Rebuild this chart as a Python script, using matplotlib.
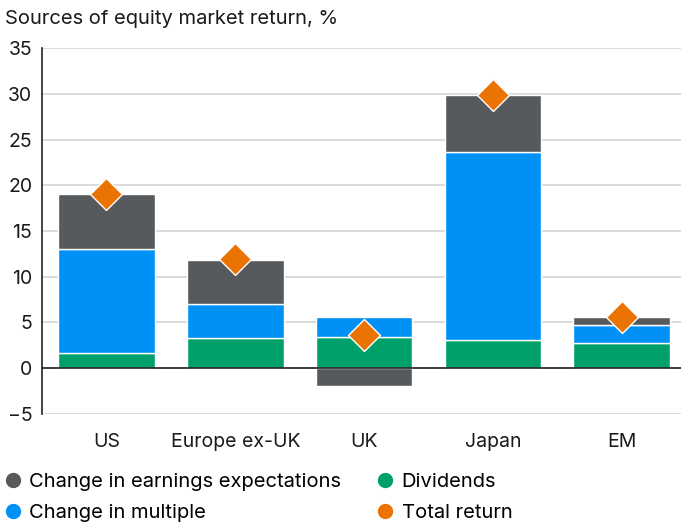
import numpy as np
import matplotlib.pyplot as plt
from matplotlib.lines import Line2D

plt.rcParams['font.family'] = ['Inter', 'DejaVu Sans']

# Data, % contribution
regions = ['US', 'Europe ex-UK', 'UK', 'Japan', 'EM']
dividends = [1.65, 3.3, 3.35, 3.05, 2.75]
multiple = [11.35, 3.75, 2.2, 20.55, 2.0]
earnings = [6.0, 4.8, -1.95, 6.3, 0.8]
total_return = [19.0, 11.9, 3.65, 29.9, 5.6]

c_earn = '#575a5d'
c_div = '#00a06b'
c_mult = '#0091f7'
c_total = '#ea7303'

fig = plt.figure(figsize=(6.81, 5.24), dpi=100)
ax = fig.add_axes([0.0617, 0.2105, 0.9383, 0.6975])

x = np.arange(len(regions))
w = 0.75
div = np.array(dividends)
mult = np.array(multiple)
earn = np.array(earnings)

ax.bar(x, div, w, color=c_div, edgecolor='white', linewidth=1, zorder=3)
ax.bar(x, mult, w, bottom=div, color=c_mult, edgecolor='white', linewidth=1, zorder=3)
# negative earnings hang below zero, positive ones sit on top of the stack
earn_bottom = np.where(earn >= 0, div + mult, 0)
ax.bar(x, earn, w, bottom=earn_bottom, color=c_earn, edgecolor='white', linewidth=1, zorder=3)
ax.plot(x, total_return, 'D', color=c_total, markeredgecolor='white',
        markeredgewidth=1, markersize=16, zorder=5, clip_on=False)

ax.set_ylim(-5, 35)
ax.set_yticks(range(-5, 36, 5))
ax.set_xlim(-0.5, 4.46)
ax.set_xticks(x)
ax.set_xticklabels(regions)
ax.tick_params(axis='both', length=0, labelsize=14, colors='#1a1a1a')
ax.tick_params(axis='x', pad=14)
ax.tick_params(axis='y', pad=7)
ax.grid(axis='y', color='#d4d4d4', linewidth=1.2, zorder=0)
ax.axhline(0, color='#222222', linewidth=1.2, zorder=4)
for s in ['top', 'right', 'bottom']:
    ax.spines[s].set_visible(False)
ax.spines['left'].set_color('#222222')
ax.spines['left'].set_linewidth(1.2)

fig.text(0.007, 0.963, 'Sources of equity market return, %', fontsize=14.5,
         color='#1a1a1a', va='center', ha='left')

def dot(c):
    return Line2D([], [], marker='o', linestyle='none', markersize=10,
                  markerfacecolor=c, markeredgecolor=c)

handles = [dot(c_earn), dot(c_mult), dot(c_div), dot(c_total)]
labels = ['Change in earnings expectations', 'Change in multiple', 'Dividends', 'Total return']
fig.legend(handles, labels, ncol=2, loc='lower left', bbox_to_anchor=(-0.006, -0.012),
           frameon=False, fontsize=14.5, handletextpad=0.35, handlelength=0.9,
           columnspacing=1.75, labelspacing=0.65, borderaxespad=0)

fig.savefig('out.png', dpi=100)
